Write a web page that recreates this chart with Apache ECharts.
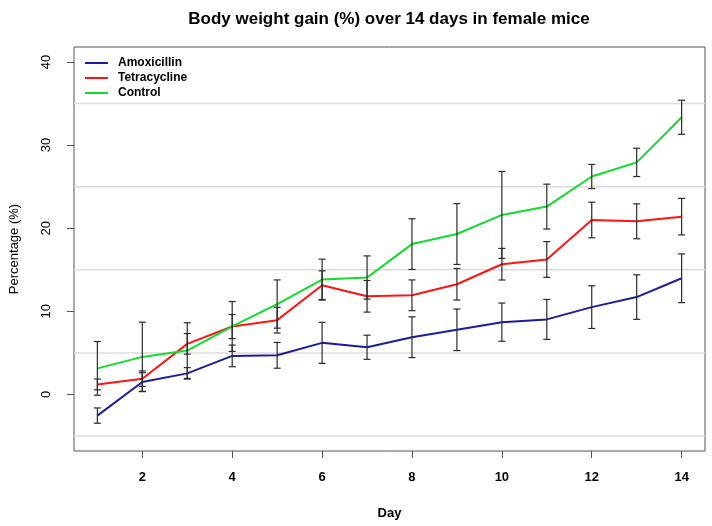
<!DOCTYPE html>
<html>
<head>
<meta charset="utf-8">
<script src="https://cdn.jsdelivr.net/npm/echarts@6/dist/echarts.min.js"></script>
<style>
  html, body { margin: 0; padding: 0; background: #fff; }
  #chart { width: 712px; height: 526px; }
</style>
</head>
<body>
<div id="chart"></div>
<script>
// data (mean and +/- error per day)
const days = [1, 2, 3, 4, 5, 6, 7, 8, 9, 10, 11, 12, 13, 14];
const amoxMean = [-2.54, 1.50, 2.54, 4.64, 4.71, 6.21, 5.68, 6.89, 7.78, 8.70, 9.03, 10.51, 11.72, 13.98];
const amoxErr = [0.92, 1.12, 0.69, 1.30, 1.55, 2.47, 1.45, 2.45, 2.50, 2.30, 2.40, 2.57, 2.68, 2.93];
const tetraMean = [1.21, 1.90, 6.09, 8.17, 8.94, 13.14, 11.81, 11.93, 13.26, 15.67, 16.24, 20.99, 20.83, 21.39];
const tetraErr = [0.65, 0.93, 1.24, 1.45, 1.55, 1.73, 1.90, 1.85, 1.90, 1.90, 2.15, 2.14, 2.10, 2.20];
const controlMean = [3.14, 4.52, 5.28, 8.18, 10.88, 13.82, 14.07, 18.09, 19.30, 21.60, 22.60, 26.22, 27.92, 33.35];
const controlErr = [3.23, 4.18, 3.35, 3.00, 2.90, 2.46, 2.60, 3.05, 3.66, 5.23, 2.70, 1.45, 1.70, 2.05];

const xTicks = [2, 4, 6, 8, 10, 12, 14];
const yTicks = [0, 10, 20, 30, 40];
const refLines = [-5, 5, 15, 25, 35];

const FONT = '"Liberation Sans", Arial, sans-serif';

function pairs(means) {
  return days.map((d, i) => [d, means[i]]);
}

function errData(means, errs) {
  return days.map((d, i) => [d, means[i] - errs[i], means[i] + errs[i]]);
}

function errorBars(data) {
  return {
    type: 'custom',
    data: data,
    encode: { x: 0, y: [1, 2] },
    z: 5,
    silent: true,
    renderItem: function (params, api) {
      const top = api.coord([api.value(0), api.value(2)]);
      const bot = api.coord([api.value(0), api.value(1)]);
      const hw = 3.5;
      const st = { stroke: '#2b2b2b', lineWidth: 1.2 };
      return {
        type: 'group',
        children: [
          { type: 'line', shape: { x1: top[0], y1: top[1], x2: bot[0], y2: bot[1] }, style: st },
          { type: 'line', shape: { x1: top[0] - hw, y1: top[1], x2: top[0] + hw, y2: top[1] }, style: st },
          { type: 'line', shape: { x1: bot[0] - hw, y1: bot[1], x2: bot[0] + hw, y2: bot[1] }, style: st }
        ]
      };
    }
  };
}

function lineSeries(name, means, color) {
  return {
    name: name,
    type: 'line',
    data: pairs(means),
    showSymbol: false,
    z: 4,
    color: color,
    lineStyle: { color: color, width: 2 }
  };
}

const chart = echarts.init(document.getElementById('chart'));

const option = {
  animation: false,
  backgroundColor: '#fff',
  graphic: [{
    type: 'text',
    x: 389,
    y: 19,
    style: {
      text: 'Body weight gain (%) over 14 days in female mice',
      font: 'bold 17px ' + FONT,
      fill: '#000',
      align: 'center',
      verticalAlign: 'middle'
    }
  }],
  grid: {
    left: 73, right: 7, top: 47, bottom: 75,
    show: true,
    borderColor: '#555',
    borderWidth: 1
  },
  legend: {
    orient: 'vertical',
    left: 85,
    top: 56,
    padding: 0,
    icon: 'rect',
    itemWidth: 23,
    itemHeight: 2,
    itemGap: 1,
    textStyle: { fontFamily: FONT, fontSize: 12, fontWeight: 'bold', color: '#000', lineHeight: 14, padding: [0, 0, 0, 5] },
    data: ['Amoxicillin', 'Tetracycline', 'Control']
  },
  xAxis: {
    type: 'value',
    min: 0.48,
    max: 14.52,
    name: 'Day',
    nameLocation: 'middle',
    nameGap: 56,
    nameTextStyle: { fontFamily: FONT, fontSize: 13, fontWeight: 'bold', color: '#000' },
    axisLine: { show: false, onZero: false },
    splitLine: { show: false },
    axisTick: { show: true, length: 7, lineStyle: { color: '#555' }, customValues: xTicks },
    axisLabel: { customValues: xTicks, margin: 20, fontFamily: FONT, fontSize: 13, fontWeight: 'bold', color: '#000' }
  },
  yAxis: {
    type: 'value',
    min: -6.8,
    max: 41.8,
    name: 'Percentage (%)',
    nameLocation: 'middle',
    nameGap: 53,
    nameTextStyle: { fontFamily: FONT, fontSize: 13, color: '#000' },
    axisLine: { show: false, onZero: false },
    splitLine: { show: false },
    axisTick: { show: true, length: 7, lineStyle: { color: '#555' }, customValues: yTicks },
    axisLabel: { customValues: yTicks, rotate: 90, margin: 21, fontFamily: FONT, fontSize: 13, color: '#000' }
  },
  series: [
    {
      type: 'custom',
      data: refLines.map(v => [v]),
      encode: { y: 0 },
      z: 1,
      silent: true,
      renderItem: function (params, api) {
        const y = api.coord([1, api.value(0)])[1];
        const cs = params.coordSys;
        return {
          type: 'line',
          shape: { x1: cs.x, y1: y, x2: cs.x + cs.width, y2: y },
          style: { stroke: '#dcdcdc', lineWidth: 1.5 }
        };
      }
    },
    lineSeries('Amoxicillin', amoxMean, '#1c1c9e'),
    lineSeries('Tetracycline', tetraMean, '#ff1414'),
    lineSeries('Control', controlMean, '#12dc2e'),
    errorBars(errData(amoxMean, amoxErr)),
    errorBars(errData(tetraMean, tetraErr)),
    errorBars(errData(controlMean, controlErr))
  ]
};

chart.setOption(option);
</script>
</body>
</html>
